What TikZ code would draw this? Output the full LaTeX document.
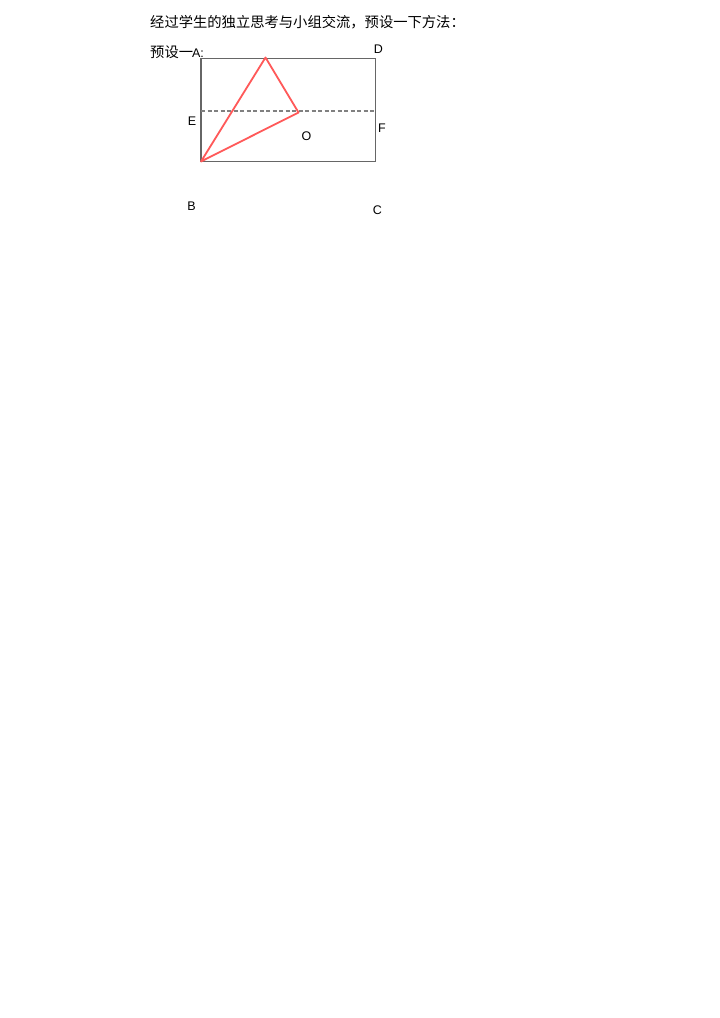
\documentclass[tikz,border=0pt]{standalone}
\usepackage{fontspec}
\setmainfont{Liberation Sans}
\newfontfamily\cjk{Noto Sans CJK SC}
\begin{document}
\begin{tikzpicture}[x=1pt, y=-1pt,
    lbl/.style={inner sep=0pt, font=\fontsize{12.5}{14}\selectfont},
    cjktext/.style={inner sep=0pt, anchor=west, font=\fontsize{14.3}{16}\selectfont\cjk}]
    \useasboundingbox[fill=white] (0,0) rectangle (720,1018);
    \node[cjktext] (intro) at (150,22) {经过学生的独立思考与小组交流，预设一下方法：};
    \node[cjktext] (pre) at (150,52) {预设一\kern-1pt{\fontsize{12.5}{14}\selectfont\rmfamily A:}};
    % rectangle corners
    \coordinate (tl) at (201,58.5);
    \coordinate (tr) at (375.5,58.5);
    \coordinate (br) at (375.5,161.5);
    \coordinate (bl) at (201,161.5);
    \coordinate (el) at (201,111);
    \coordinate (er) at (375.5,111);
    \draw[gray!80!black, line width=1.2pt] (tl) -- (tr) -- (br) -- (bl) -- cycle;
    \draw[gray, dash pattern=on 4pt off 2.5pt, line width=1.2pt] (el) -- (er);
    % folded triangle
    \coordinate (top) at (265.5,57.5);
    \coordinate (mid) at (298.5,112.5);
    \draw[red!65, line width=1.8pt, line join=round] (bl) -- (top) -- (mid) -- cycle;
    \node[lbl] (D) at (378.5,49) {D};
    \node[lbl] (E) at (192,121) {E};
    \node[lbl] (F) at (382,128) {F};
    \node[lbl] (O) at (306.5,136) {O};
    \node[lbl] (B) at (191.5,206) {B};
    \node[lbl] (C) at (377.5,210) {C};
\end{tikzpicture}
\end{document}
